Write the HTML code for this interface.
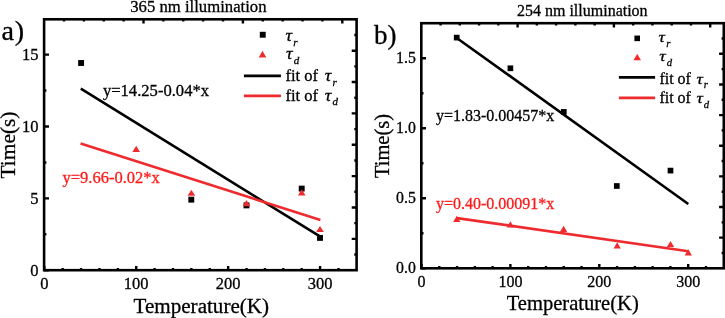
<!DOCTYPE html><html><head><meta charset="utf-8"><style>html,body{margin:0;padding:0;background:#fff;overflow:hidden}svg{display:block;will-change:transform}text{font-family:"Liberation Serif",serif;stroke-width:0.3px}</style></head><body>
<svg width="725" height="318" viewBox="0 0 725 318">
<path d="M44.3 270.2V265.9M62.69 270.2V267.9M81.07 270.2V267.9M99.46 270.2V267.9M117.84 270.2V267.9M136.23 270.2V265.9M154.62 270.2V267.9M173 270.2V267.9M191.39 270.2V267.9M209.77 270.2V267.9M228.16 270.2V265.9M246.55 270.2V267.9M264.93 270.2V267.9M283.32 270.2V267.9M301.7 270.2V267.9M320.09 270.2V265.9M338.48 270.2V267.9M44.1 270.2H49M44.1 234.27H46.4M44.1 198.35H49M44.1 162.43H46.4M44.1 126.5H49M44.1 90.57H46.4M44.1 54.65H49M63.98 19.3V21.6M83.86 19.3V21.6M103.74 19.3V21.6M123.62 19.3V21.6M143.5 19.3V23.6M163.38 19.3V21.6M183.26 19.3V21.6M203.14 19.3V21.6M223.02 19.3V21.6M242.9 19.3V23.6M262.78 19.3V21.6M282.66 19.3V21.6M302.54 19.3V21.6M322.42 19.3V21.6M342.3 19.3V23.6M356.6 254.52H354.3M356.6 238.84H351.7M356.6 223.16H354.3M356.6 207.48H351.7M356.6 191.8H354.3M356.6 176.12H351.7M356.6 160.44H354.3M356.6 144.76H351.7M356.6 129.08H354.3M356.6 113.4H351.7M356.6 97.72H354.3M356.6 82.04H351.7M356.6 66.36H354.3M356.6 50.68H351.7M356.6 35H354.3" stroke="#000" stroke-width="2.4" fill="none"/>
<rect x="44.1" y="19.3" width="312.5" height="250.9" fill="none" stroke="#000" stroke-width="2.6"/>
<line x1="80.8" y1="88.7" x2="320.3" y2="236.7" stroke="#000" stroke-width="2.6"/>
<line x1="80.6" y1="143.6" x2="320.4" y2="219.9" stroke="#ee2b2f" stroke-width="2.6"/>
<rect x="78.15" y="60.05" width="5.9" height="5.9" fill="#000"/>
<rect x="188.35" y="196.7" width="5.9" height="5.9" fill="#000"/>
<rect x="243.55" y="202.45" width="5.9" height="5.9" fill="#000"/>
<rect x="298.75" y="185.65" width="5.9" height="5.9" fill="#000"/>
<rect x="317.05" y="234.95" width="5.9" height="5.9" fill="#000"/>
<path d="M136.2 145.75L140 151.95L132.4 151.95Z" fill="#ee2b2f"/>
<path d="M191.4 189.65L195.2 195.85L187.6 195.85Z" fill="#ee2b2f"/>
<path d="M246.5 200.1L250.3 206.3L242.7 206.3Z" fill="#ee2b2f"/>
<path d="M301.75 189.3L305.55 195.5L297.95 195.5Z" fill="#ee2b2f"/>
<path d="M320 225.9L323.8 232.1L316.2 232.1Z" fill="#ee2b2f"/>
<text x="198.4" y="11.7" font-size="16.7" text-anchor="middle" fill="#000" stroke="#000">365 nm illumination</text>
<text x="1.5" y="40.4" font-size="28.2" text-anchor="start" fill="#000" stroke="#000">a<tspan dx="0.8">)</tspan></text>
<text x="38.6" y="275.65" font-size="16.5" text-anchor="end" fill="#000" stroke="#000">0</text>
<text x="38.6" y="203.8" font-size="16.5" text-anchor="end" fill="#000" stroke="#000">5</text>
<text x="38.6" y="131.95" font-size="16.5" text-anchor="end" fill="#000" stroke="#000">10</text>
<text x="38.6" y="60.1" font-size="16.5" text-anchor="end" fill="#000" stroke="#000">15</text>
<text x="44.3" y="289" font-size="16.5" text-anchor="middle" fill="#000" stroke="#000">0</text>
<text x="136.23" y="289" font-size="16.5" text-anchor="middle" fill="#000" stroke="#000">100</text>
<text x="228.16" y="289" font-size="16.5" text-anchor="middle" fill="#000" stroke="#000">200</text>
<text x="320.09" y="289" font-size="16.5" text-anchor="middle" fill="#000" stroke="#000">300</text>
<text stroke="#000" transform="translate(14.9,145) rotate(-90)" x="0" y="0" font-size="21.4" text-anchor="middle">Time(s)</text>
<text x="201.3" y="313.4" font-size="21.1" text-anchor="middle" fill="#000" stroke="#000">Temperature(K)</text>
<text x="102.9" y="95.7" font-size="16.6" text-anchor="start" fill="#000" stroke="#000">y=14.25-0.04*x</text>
<text x="62.5" y="182.9" font-size="16.5" text-anchor="start" fill="#ff1a1a" stroke="#ff1a1a">y=9.66-0.02*x</text>
<rect x="259.8" y="31.8" width="5.9" height="5.9" fill="#000"/>
<path d="M262.5 50.8L266.3 57.4L258.7 57.4Z" fill="#ee2b2f"/>
<text stroke="#000" stroke-width="0.15" font-style="italic" font-size="18.5" transform="translate(285.4,41.1) scale(1,0.86)">&#964;</text>
<text stroke="#000" font-style="italic" font-size="11" x="293.22" y="45.9">r</text>
<text stroke="#000" stroke-width="0.15" font-style="italic" font-size="18.5" transform="translate(286,59.3) scale(1,0.86)">&#964;</text>
<text stroke="#000" font-style="italic" font-size="11" x="293.82" y="64.1">d</text>
<line x1="243.9" y1="75.9" x2="280.9" y2="75.9" stroke="#000" stroke-width="2.7"/>
<line x1="243.9" y1="95.9" x2="280.9" y2="95.9" stroke="#ee2b2f" stroke-width="2.7"/>
<text stroke="#000" x="285.5" y="81.3" font-size="16.5">fit of</text>
<text stroke="#000" stroke-width="0.15" font-style="italic" font-size="18.5" transform="translate(324.76,81.3) scale(1,0.86)">&#964;</text>
<text stroke="#000" font-style="italic" font-size="11" x="332.38" y="85.5">r</text>
<text stroke="#000" x="285.5" y="101.2" font-size="16.5">fit of</text>
<text stroke="#000" stroke-width="0.15" font-style="italic" font-size="18.5" transform="translate(324.76,101.2) scale(1,0.86)">&#964;</text>
<text stroke="#000" font-style="italic" font-size="11" x="332.38" y="105.4">d</text>
<path d="M421.5 268.3V264.1M439.28 268.3V266.1M457.06 268.3V266.1M474.84 268.3V266.1M492.62 268.3V266.1M510.4 268.3V264.1M528.18 268.3V266.1M545.96 268.3V266.1M563.74 268.3V266.1M581.52 268.3V266.1M599.3 268.3V264.1M617.08 268.3V266.1M634.86 268.3V266.1M652.64 268.3V266.1M670.42 268.3V266.1M688.2 268.3V264.1M705.98 268.3V266.1M421.3 268.3H426M421.3 233.3H423.5M421.3 198.3H426M421.3 163.3H423.5M421.3 128.3H426M421.3 93.3H423.5M421.3 58.3H426M440.56 23.2V25.4M459.82 23.2V25.4M479.08 23.2V25.4M498.34 23.2V25.4M517.6 23.2V27.4M536.86 23.2V25.4M556.12 23.2V25.4M575.38 23.2V25.4M594.64 23.2V25.4M613.9 23.2V27.4M633.16 23.2V25.4M652.42 23.2V25.4M671.68 23.2V25.4M690.94 23.2V25.4M710.2 23.2V27.4M723.8 252.98H721.6M723.8 237.66H719.1M723.8 222.34H721.6M723.8 207.02H719.1M723.8 191.7H721.6M723.8 176.38H719.1M723.8 161.06H721.6M723.8 145.74H719.1M723.8 130.42H721.6M723.8 115.1H719.1M723.8 99.78H721.6M723.8 84.46H719.1M723.8 69.14H721.6M723.8 53.82H719.1M723.8 38.5H721.6" stroke="#000" stroke-width="2.4" fill="none"/>
<rect x="421.3" y="23.2" width="302.5" height="245.1" fill="none" stroke="#000" stroke-width="2.6"/>
<line x1="457.1" y1="38.2" x2="688.3" y2="204" stroke="#000" stroke-width="2.6"/>
<line x1="457" y1="218.1" x2="688.3" y2="251.2" stroke="#ee2b2f" stroke-width="2.6"/>
<rect x="453.85" y="34.75" width="5.7" height="5.7" fill="#000"/>
<rect x="507.55" y="65.45" width="5.7" height="5.7" fill="#000"/>
<rect x="560.95" y="109.05" width="5.7" height="5.7" fill="#000"/>
<rect x="613.95" y="183.15" width="5.7" height="5.7" fill="#000"/>
<rect x="667.65" y="167.75" width="5.7" height="5.7" fill="#000"/>
<path d="M456.8 215.7L460.45 221.9L453.15 221.9Z" fill="#ee2b2f"/>
<path d="M510.4 221.2L514.05 227.4L506.75 227.4Z" fill="#ee2b2f"/>
<path d="M563.6 225.75L567.25 231.95L559.95 231.95Z" fill="#ee2b2f"/>
<path d="M617.2 242.2L620.85 248.4L613.55 248.4Z" fill="#ee2b2f"/>
<path d="M670.5 240.9L674.15 247.1L666.85 247.1Z" fill="#ee2b2f"/>
<path d="M688.3 249.2L691.95 255.4L684.65 255.4Z" fill="#ee2b2f"/>
<text x="582.3" y="15.6" font-size="16" text-anchor="middle" fill="#000" stroke="#000">254 nm illumination</text>
<text x="374.1" y="44.1" font-size="27" text-anchor="start" fill="#000" stroke="#000">b)</text>
<text x="415.8" y="273.3" font-size="15.8" text-anchor="end" fill="#000" stroke="#000">0.0</text>
<text x="415.8" y="203.3" font-size="15.8" text-anchor="end" fill="#000" stroke="#000">0.5</text>
<text x="415.8" y="133.3" font-size="15.8" text-anchor="end" fill="#000" stroke="#000">1.0</text>
<text x="415.8" y="63.3" font-size="15.8" text-anchor="end" fill="#000" stroke="#000">1.5</text>
<text x="421.5" y="286.8" font-size="16" text-anchor="middle" fill="#000" stroke="#000">0</text>
<text x="510.4" y="286.8" font-size="16" text-anchor="middle" fill="#000" stroke="#000">100</text>
<text x="599.3" y="286.8" font-size="16" text-anchor="middle" fill="#000" stroke="#000">200</text>
<text x="688.2" y="286.8" font-size="16" text-anchor="middle" fill="#000" stroke="#000">300</text>
<text stroke="#000" transform="translate(388.75,146) rotate(-90)" x="0" y="0" font-size="20.5" text-anchor="middle">Time(s)</text>
<text x="572.75" y="310.4" font-size="20.55" text-anchor="middle" fill="#000" stroke="#000">Temperature(K)</text>
<text x="435.9" y="120.6" font-size="16" text-anchor="start" fill="#000" stroke="#000">y=1.83-0.00457*x</text>
<text x="435.9" y="208.7" font-size="16" text-anchor="start" fill="#ff1a1a" stroke="#ff1a1a">y=0.40-0.00091*x</text>
<rect x="634.4" y="35.55" width="5.6" height="5.6" fill="#000"/>
<path d="M637.25 53.85L640.95 60.15L633.55 60.15Z" fill="#ee2b2f"/>
<text stroke="#000" stroke-width="0.15" font-style="italic" font-size="18" transform="translate(658.6,42.4) scale(1,0.86)">&#964;</text>
<text stroke="#000" font-style="italic" font-size="10.7" x="666.14" y="47.2">r</text>
<text stroke="#000" stroke-width="0.15" font-style="italic" font-size="18" transform="translate(659.2,61.3) scale(1,0.86)">&#964;</text>
<text stroke="#000" font-style="italic" font-size="10.7" x="666.74" y="66.1">d</text>
<line x1="618.9" y1="77.4" x2="655.1" y2="77.4" stroke="#000" stroke-width="2.7"/>
<line x1="618.9" y1="97.85" x2="655.1" y2="97.85" stroke="#ee2b2f" stroke-width="2.7"/>
<text stroke="#000" x="659.4" y="83.6" font-size="16">fit of</text>
<text stroke="#000" stroke-width="0.15" font-style="italic" font-size="18" transform="translate(696.45,83.6) scale(1,0.86)">&#964;</text>
<text stroke="#000" font-style="italic" font-size="10.7" x="703.69" y="87.8">r</text>
<text stroke="#000" x="659.4" y="103.3" font-size="16">fit of</text>
<text stroke="#000" stroke-width="0.15" font-style="italic" font-size="18" transform="translate(696.45,103.3) scale(1,0.86)">&#964;</text>
<text stroke="#000" font-style="italic" font-size="10.7" x="703.69" y="107.5">d</text>
</svg></body></html>
